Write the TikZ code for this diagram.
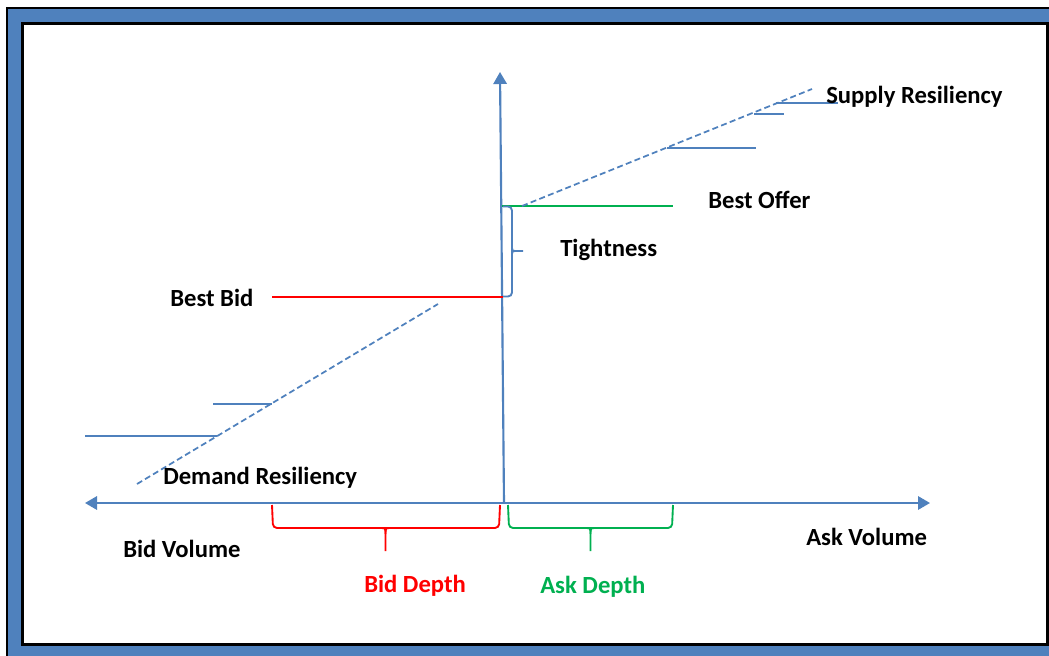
\documentclass[tikz,border=0pt]{standalone}
\usepackage{fontspec}
\setmainfont{Carlito}
\usetikzlibrary{arrows.meta}
\definecolor{obl}{HTML}{4F81BD}
\definecolor{ored}{HTML}{FF0000}
\definecolor{ogr}{HTML}{00B050}
\tikzset{
  lbl/.style={anchor=base west, inner sep=0pt, font=\fontsize{18.5}{22}\selectfont\bfseries},
  axisline/.style={draw=obl, line width=1.6pt},
  stepline/.style={draw=obl, line width=1.9pt},
  dashline/.style={draw=obl, line width=1.3pt, dash pattern=on 4.5pt off 2.5pt},
  bracket/.style={line width=1.4pt, rounded corners=3pt},
  stem/.style={line width=1.4pt},
  tip/.style={-{Triangle[length=9pt,width=10pt]}}
}
\begin{document}
\begin{tikzpicture}[x=0.75pt,y=-0.75pt]
\useasboundingbox (0,0) rectangle (1049,656);
% frame
\fill[obl] (7,7) rectangle (1049,656);
\draw[line width=1.5pt] (7,656) -- (7,7.8) -- (1049,7.8);
\fill[white] (22,23) rectangle (1048,645);
\draw[line width=2.2pt] (22.5,23.5) rectangle (1047.5,644.5);
% coordinates
\coordinate (O) at (504,503);
\coordinate (ytop) at (500,72);
\coordinate (xl) at (85,503);
\coordinate (xr) at (930,503);
% axes
\draw[axisline, tip] (O) -- (ytop);
\draw[axisline, {Triangle[length=9pt,width=10pt]}-{Triangle[length=9pt,width=10pt]}] (xl) -- (xr);
% best bid / best offer
\coordinate (bb0) at (272,297);
\coordinate (bb1) at (502.5,297);
\coordinate (bo0) at (502,206);
\coordinate (bo1) at (673,206);
\draw[ored, line width=1.6pt] (bb0) -- (bb1);
\draw[ogr, line width=1.6pt] (bo0) -- (bo1);
% demand
\coordinate (d0) at (137,484);
\coordinate (d1) at (438,304);
\draw[dashline] (d0) -- (d1);
\draw[stepline] (85,436) -- (217,436);
\draw[stepline] (213,404) -- (272,404);
% supply
\coordinate (s0) at (522,206);
\coordinate (s1) at (812,89);
\draw[dashline] (s0) -- (s1);
\draw[stepline] (667,148) -- (756,148);
\draw[stepline] (754,114) -- (784,114);
\draw[stepline] (776,103) -- (838,103);
% tightness brace
\draw[obl, bracket] (503,206.5) -- (512,206.5) -- (512,296.5) -- (503,296.5);
\draw[obl, stem] (512,246) .. controls (512,251) .. (517,251) -- (523,251);
\draw[obl, stem] (512,256) .. controls (512,251) .. (517,251);
% bid depth brace
\draw[ored, bracket] (272,505) -- (273,528) -- (499,528) -- (500,505);
\draw[ored, stem] (380,528) .. controls (385.5,528) .. (385.5,534) -- (385.5,551);
\draw[ored, stem] (391,528) .. controls (385.5,528) .. (385.5,534);
% ask depth brace
\draw[ogr, bracket] (508,505) -- (509,528) -- (672,528) -- (673,505);
\draw[ogr, stem] (585,528) .. controls (590.5,528) .. (590.5,534) -- (590.5,551);
\draw[ogr, stem] (596,528) .. controls (590.5,528) .. (590.5,534);
% labels
\node[lbl] (tsr) at (826,104) {Supply Resiliency};
\node[lbl] (tbo) at (708,209) {Best Offer};
\node[lbl] (tti) at (560,256) {Tightness};
\node[lbl] (tbb) at (170,306) {Best Bid};
\node[lbl] (tdr) at (163,484) {Demand Resiliency};
\node[lbl] (tbv) at (123,557) {Bid Volume};
\node[lbl] (tav) at (806,545) {Ask Volume};
\node[lbl, text=ored] (tbd) at (364,592) {Bid Depth};
\node[lbl, text=ogr] (tad) at (540,593) {Ask Depth};
\end{tikzpicture}
\end{document}
